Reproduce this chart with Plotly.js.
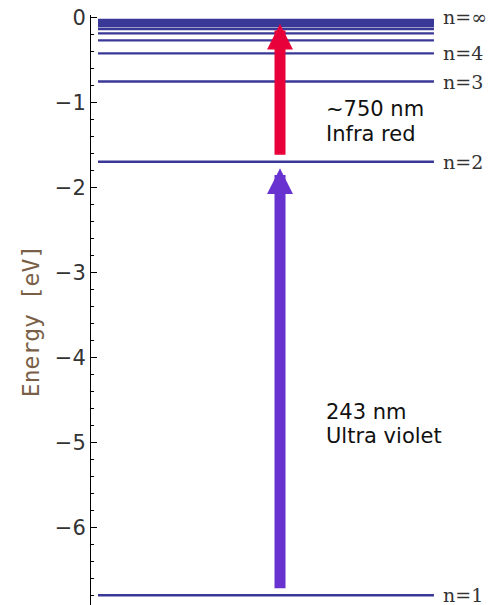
<!DOCTYPE html>
<html>
<head>
<meta charset="utf-8">
<script src="https://cdn.plot.ly/plotly-3.0.1.min.js"></script>
<style>html,body{margin:0;padding:0;background:#fff;}#chart{width:494px;height:605px;}</style>
</head>
<body>
<div id="chart"></div>
<script>
// Positronium energy levels (eV), E_n = -6.8 / n^2
const levelN = [1,2,3,4,5,6,7,8,9,10,11,12,13,14,15];
const levelEnergy = [-6.8,-1.7,-0.756,-0.425,-0.272,-0.189,-0.139,-0.106,-0.084,-0.068,-0.056,-0.047,-0.040,-0.035,-0.030];
const labelText = ["n=1","n=2","n=3","n=4","n=\u221e"];
const labelEnergy = [-6.8,-1.7,-0.756,-0.425,0];
const yTicks = [0,-1,-2,-3,-4,-5,-6];
const yTickText = ["0","\u22121","\u22122","\u22123","\u22124","\u22125","\u22126"];
const yTitle = "Energy [eV]";
// transitions: lower level energy, upper level energy
const transFrom = [-1.7, -6.8];
const transTo = [0, -1.7];
const transColor = ["rgb(232,0,58)", "rgb(104,50,208)"];
const transLine1 = ["~750 nm", "243 nm"];
const transLine2 = ["Infra red", "Ultra violet"];
const transTextY = [-1.08, -4.64];

const X0 = 0.0174, X1 = 0.851, XLAB = 0.868, XARR = 0.469, XTXT = 0.577, LINE_GAP = 0.29;

const lx = [], ly = [];
levelEnergy.forEach(e => { lx.push(X0, X1, null); ly.push(e, e, null); });

const traces = [{
  x: lx, y: ly, mode: 'lines', type: 'scatter', hoverinfo: 'skip',
  line: {color: 'rgb(58,56,150)', width: 2.4}, showlegend: false
}];

const annotations = [];
labelText.forEach((t, i) => annotations.push({
  x: XLAB, y: labelEnergy[i], xref: 'x', yref: 'y', text: t, showarrow: false,
  xanchor: 'left', yanchor: 'middle',
  font: {family: 'DejaVu Serif', size: 19, color: '#333'}
}));
transFrom.forEach((e0, i) => {
  annotations.push({
    x: XARR, y: transTo[i] - 0.075, ax: XARR, ay: e0 + 0.065,
    xref: 'x', yref: 'y', axref: 'x', ayref: 'y', text: '', showarrow: true,
    arrowhead: 2, arrowwidth: 11, arrowsize: 0.47, arrowcolor: transColor[i], standoff: 0
  });
  [transLine1[i], transLine2[i]].forEach((t, k) => annotations.push({
    x: XTXT, y: transTextY[i] - k * LINE_GAP, xref: 'x', yref: 'y', text: t, showarrow: false,
    xanchor: 'left', yanchor: 'middle', align: 'left',
    font: {family: 'DejaVu Sans', size: 21, color: '#111'}
  }));
});
// y-axis title (placed as rotated text to match the reference position)
annotations.push({
  x: -0.149, y: 0.481, xref: 'paper', yref: 'paper', text: yTitle, showarrow: false,
  textangle: -90, xanchor: 'center', yanchor: 'middle',
  font: {family: 'DejaVu Sans Mono', size: 23, color: '#7a5f48'}
});

const layout = {
  width: 494, height: 605,
  margin: {l: 91, r: 0, t: 15, b: 0, pad: 0},
  paper_bgcolor: '#fff', plot_bgcolor: '#fff',
  showlegend: false,
  xaxis: {range: [0, 1], visible: false, fixedrange: true},
  yaxis: {
    range: [-6.914, 0.027], showline: true, linecolor: '#000', linewidth: 1,
    showgrid: false, zeroline: false, ticks: 'inside', ticklen: 6, tickcolor: '#000',
    tickvals: yTicks, ticktext: yTickText,
    tickfont: {family: 'DejaVu Sans', size: 21, color: '#333'},
    minor: {dtick: 0.2, ticks: 'inside', ticklen: 3, tickcolor: '#000', showgrid: false},
    automargin: false
  },
  annotations: annotations
};
Plotly.newPlot('chart', traces, layout, {staticPlot: true});
</script>
</body>
</html>
